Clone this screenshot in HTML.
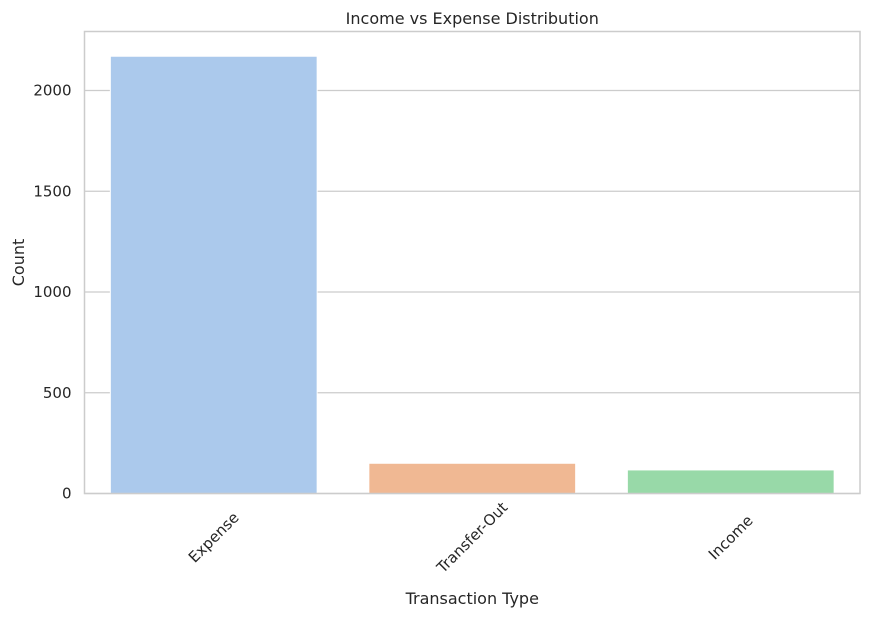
<!DOCTYPE html>
<html><head><meta charset="utf-8"><style>
body{margin:0;background:#fff;font-family:"Liberation Sans","DejaVu Sans",sans-serif}
svg text{fill:#262626;font-family:"DejaVu Sans","Liberation Sans",sans-serif}
</style></head><body>
<svg id="chart" width="870" height="618" xmlns="http://www.w3.org/2000/svg"></svg>
<script>
const categories = ["Expense","Transfer-Out","Income"];
const counts = [2170,150,117];
const colors = ["#abc9ec","#f0b893","#98d9a8"];
const yTicks = [0,500,1000,1500,2000];

const svg = document.getElementById('chart');
const NS = 'http://www.w3.org/2000/svg';
const L=84.5,R=860,T=31.5,B=493.5;
const y = v => B - v*(403/2000);
const band = (R-L)/categories.length;
const x = i => L + band*i + band/2;
function mk(tag, attrs, text){const e=document.createElementNS(NS,tag);for(const k in attrs)e.setAttribute(k,attrs[k]);if(text!==undefined)e.textContent=text;svg.appendChild(e);return e;}

yTicks.forEach(t=>{
  const g=mk('line',{x1:L,x2:R,y1:y(t),y2:y(t),stroke:'#cccccc','stroke-width':1.25});
  
  
  const lb=mk('text',{x:L-13,y:y(t)+5,'text-anchor':'end','font-size':15},String(t));
  
  
});
categories.forEach((c,i)=>{
  const w=band*0.8;
  const r=mk('rect',{x:x(i)-w/2,y:y(counts[i]),width:w,height:B-y(counts[i]),fill:colors[i],stroke:'#fff','stroke-width':1});
  
  
  const lb=mk('text',{transform:`translate(${x(i)},${B+44}) rotate(-45)`,'text-anchor':'middle','dominant-baseline':'central','font-size':15},c);
  
  
});
const fr=mk('rect',{x:L,y:T,width:R-L,height:B-T,fill:'none',stroke:'#cccccc','stroke-width':1.5});


const tt=mk('text',{x:(L+R)/2,y:24,'text-anchor':'middle','font-size':16},'Income vs Expense Distribution');


const xt=mk('text',{x:(L+R)/2,y:604,'text-anchor':'middle','font-size':16},'Transaction Type');


const yt=mk('text',{transform:`translate(24,${(T+B)/2}) rotate(-90)`,'text-anchor':'middle','font-size':16},'Count');


</script>
</body></html>
